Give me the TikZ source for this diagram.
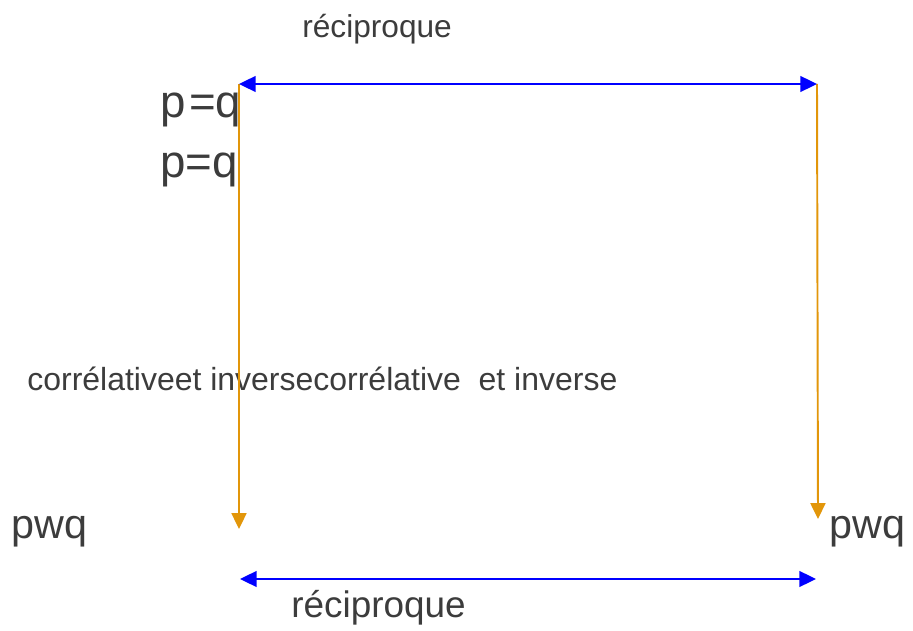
\documentclass[tikz,border=0pt]{standalone}
\usepackage{fontspec}
\setmainfont{Liberation Sans}
\usepackage{xcolor}
\usepackage{tikz}
\usetikzlibrary{arrows.meta}
\definecolor{textgray}{RGB}{60,60,60}
\definecolor{arrowblue}{RGB}{0,0,255}
\definecolor{arrowgold}{RGB}{226,150,10}

\begin{document}
\begin{tikzpicture}[x=0.02cm,y=-0.02cm,
	label node/.style={inner sep=0pt, anchor=base west, text=textgray},
	blue arrow/.style={arrowblue, line width=1.1pt, {Triangle[length=9.5pt,width=9pt]}-{Triangle[length=9.5pt,width=9pt]}},
	orange arrow/.style={arrowgold, line width=1.1pt, -{Triangle[length=9pt,width=8.5pt]}}]
			\useasboundingbox (0,0) rectangle (913,631);
			% Corners
			\coordinate (tl) at (239,84);
			\coordinate (tr) at (817,84);
			\coordinate (bl) at (240,579);
			\coordinate (br) at (816,579);
			\coordinate (lend) at (239,529);
			\coordinate (rend) at (818,519);
			
			% Texts
			\node[label node, font=\fontsize{18}{20}\selectfont] (rectop) at (302,38) {réciproque};
			\node[label node, font=\fontsize{21}{24}\selectfont] (recbot) at (291,617) {réciproque};
			\node[label node, font=\fontsize{26}{30}\selectfont] (pq1) at (160,118) {p\kern2pt=q};
			\node[label node, font=\fontsize{26}{30}\selectfont] (pq2) at (160,178) {p=q};
			\node[label node, font=\fontsize{18.2}{20}\selectfont] (corr) at (27,391) {corrélativeet inversecorrélative\ \ et inverse};
			\node[label node, font=\fontsize{23.5}{28}\selectfont] (pwqleft) at (11,539) {pwq};
			\node[label node, font=\fontsize{23.5}{28}\selectfont] (pwqright) at (829,539) {pwq};
			
			% Arrows
			\draw[orange arrow] (tl) -- (lend);
			\draw[orange arrow] (tr) -- (rend);
			\draw[blue arrow] (tl) -- (tr);
			\draw[blue arrow] (bl) -- (br);
			
\end{tikzpicture}
\end{document}
